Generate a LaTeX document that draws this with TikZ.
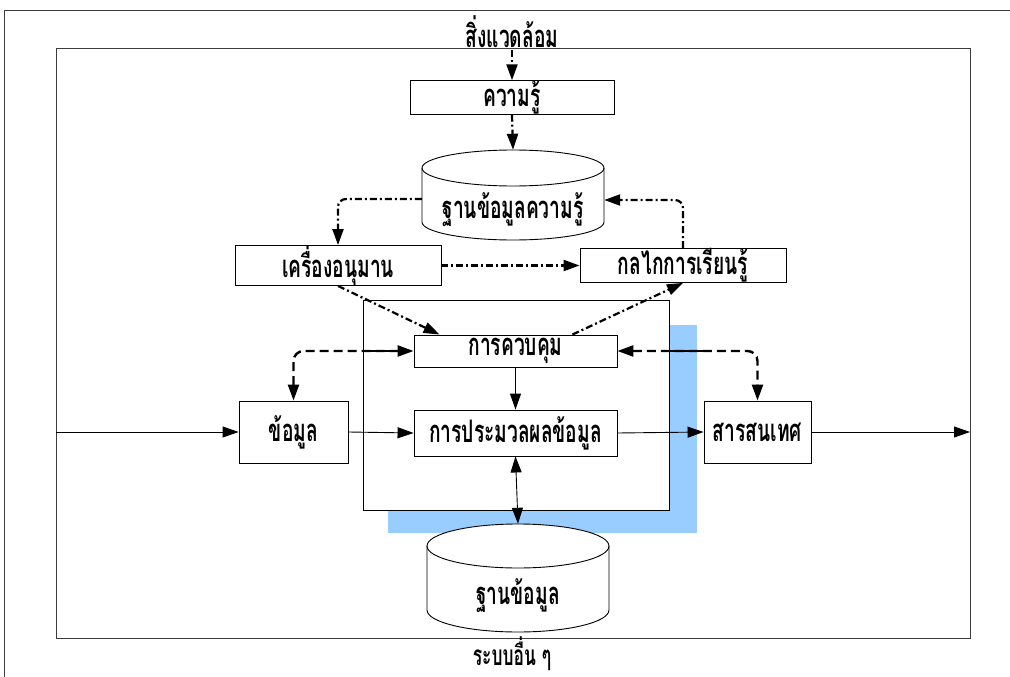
\documentclass[tikz,border=0pt]{standalone}
\usepackage{fontspec}
\newfontfamily\thaifont[Script=Thai,FakeStretch=0.62]{Loma}
\usetikzlibrary{arrows.meta}
\definecolor{shadowblue}{RGB}{153,204,255}
\definecolor{framegray}{RGB}{60,60,60}
\begin{document}
\begin{tikzpicture}[x=1pt,y=-1pt,
  box/.style={draw,line width=0.9pt,fill=white,inner sep=0pt,font=\thaifont\bfseries\fontsize{31}{32}\selectfont},
  lbl/.style={inner sep=0pt,font=\thaifont\bfseries\fontsize{31}{32}\selectfont},
  ddot/.style={line width=2.2pt,dash pattern=on 7pt off 3pt on 2pt off 3pt},
  dsh/.style={line width=2.4pt,dash pattern=on 9pt off 5pt},
  tip/.style={-{Triangle[length=16pt,width=11pt]}},
  tips/.style={{Triangle[length=16pt,width=11pt]}-{Triangle[length=16pt,width=11pt]}},
  thin/.style={line width=0.9pt}]
\useasboundingbox (0,0) rectangle (1010,677);
% outer frame
\draw[framegray,line width=1pt] (4,677) -- (4,11) -- (1010,11);
% inner frame
\draw[framegray,line width=0.9pt] (56,48) rectangle (970,638);
% shadow and core box
\fill[shadowblue] (388,325) rectangle (697,533);
\node[draw,line width=0.9pt,fill=white,minimum width=306pt,minimum height=210pt,inner sep=0pt] (core) at (516,405) {};
% title texts
\node[lbl] (env) at (512,32) {สิ่งแวดล้อม};
\node[lbl,font=\thaifont\bfseries\fontsize{28}{30}\selectfont] (other) at (512,654) {ระบบอื่น ๆ};
% boxes
\node[box,minimum width=204pt,minimum height=31pt] (know) at (512,97.5) {ความรู้};
\node[box,minimum width=206pt,minimum height=31pt] (infer) at (338,265.5) {เครื่องอนุมาน};
\node[box,minimum width=206pt,minimum height=31pt] (learn) at (683,265.5) {กลไกการเรียนรู้};
\node[box,minimum width=203pt,minimum height=32pt] (ctrl) at (515.5,351) {การควบคุม};
\node[box,minimum width=203pt,minimum height=46pt] (proc) at (515.5,433) {การประมวลผลข้อมูล};
\node[box,minimum width=109pt,minimum height=62pt] (data) at (293.5,432) {ข้อมูล};
\node[box,minimum width=107pt,minimum height=62pt] (info) at (757.5,432) {สารสนเทศ};
% cylinder: knowledge base
\draw[thin,fill=white] (422,168) -- (422,222) arc[start angle=180,end angle=360,x radius=91pt,y radius=18pt] -- (604,168) arc[start angle=0,end angle=180,x radius=91pt,y radius=18pt] -- cycle;
\draw[thin] (422,168) arc[start angle=180,end angle=360,x radius=91pt,y radius=18pt];
\node[minimum width=182pt,minimum height=90pt,inner sep=0pt] (kb) at (513,195) {};
\node[lbl] (kbt) at (513,210) {ฐานข้อมูลความรู้};
% cylinder: database
\draw[thin,fill=white] (427,546) -- (427,610) arc[start angle=180,end angle=360,x radius=91pt,y radius=22pt] -- (609,546) arc[start angle=0,end angle=180,x radius=91pt,y radius=22pt] -- cycle;
\draw[thin] (427,546) arc[start angle=180,end angle=360,x radius=91pt,y radius=22pt];
\node[minimum width=182pt,minimum height=108pt,inner sep=0pt] (db) at (518,578) {};
\node[lbl] (dbt) at (518,596) {ฐานข้อมูล};
% coordinates
\coordinate (in) at (56,432);
\coordinate (out) at (970,432);
\coordinate (envout) at (512,50);
% dash-dot connectors
\draw[ddot,tip] (envout) -- (know.north);
\draw[ddot,tip] (know.south) -- (kb.north);
\draw[ddot,tip,rounded corners=8pt] ([yshift=-4pt]kb.west) -| (infer.north);
\draw[ddot,tip,rounded corners=8pt] (learn.north) |- ([yshift=-5pt]kb.east);
\draw[ddot,tip] (infer.east) -- (learn.west);
\draw[ddot,tip] (infer.south) -- ([xshift=26pt]ctrl.north west);
\draw[ddot,tip] ([xshift=-45pt]ctrl.north east) -- (learn.south);
% solid connectors
\draw[thin,tip] (ctrl.south) -- (proc.north);
\draw[thin,tip] (in) -- (data.west);
\draw[thin,tip] (data.east) -- (proc.west);
\draw[thin,tip] (proc.east) -- (info.west);
\draw[thin,tip] (info.east) -- (out);
\draw[thin,tips] (proc.south) -- (db.north);
% dashed control connectors
\draw[dsh,tips,rounded corners=10pt] (data.north) |- (ctrl.west);
\draw[dsh,tips,rounded corners=10pt] (ctrl.east) -| (info.north);
\draw[line width=2.4pt] (core.west |- ctrl.west) -- ([xshift=-12pt]ctrl.west);
\draw[line width=2.4pt] (core.east |- ctrl.east) -- ++(38,0);
\end{tikzpicture}
\end{document}
